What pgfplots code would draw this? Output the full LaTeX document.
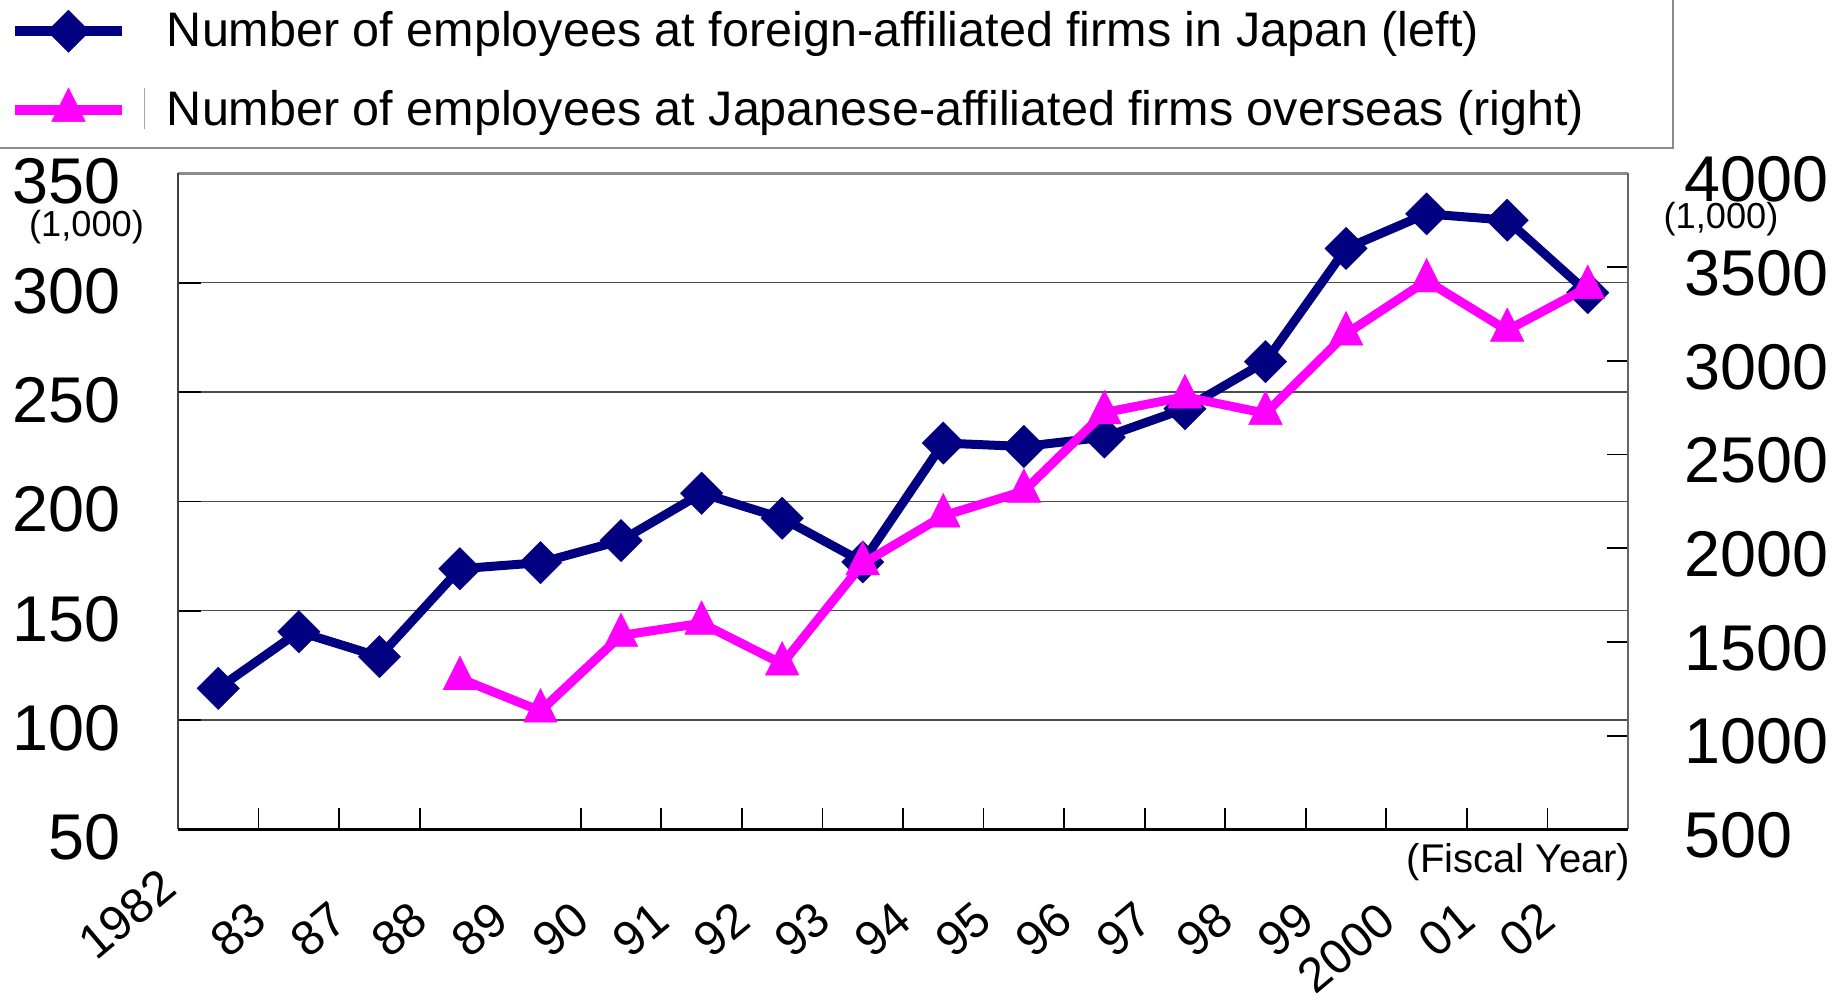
\documentclass[border=0pt]{standalone}
\usepackage{pgfplots}
\pgfplotsset{compat=1.18}
\usepackage{fontspec}
\setmainfont{Liberation Sans}
\definecolor{navyc}{RGB}{0,0,128}
\definecolor{magc}{RGB}{255,0,255}
\newcommand{\fs}[1]{\fontsize{#1pt}{#1pt}\selectfont}
\pgfplotsset{
  navyline/.style={color=navyc, line width=0.9mm, line join=round, mark=square*, mark size=1.5mm,
    mark options={rotate=45, solid, line width=0.1pt, fill=navyc}},
  magline/.style={color=magc, line width=0.9mm, line join=round, mark=triangle*, mark size=1.95mm,
    mark options={yscale=1.155, solid, line width=0.1pt, fill=magc}},
}
\begin{document}
\begin{tikzpicture}
\begin{axis}[
  at={(0,0)}, anchor=south west, scale only axis,
  width=14.5cm, height=6.56cm,
  xmin=-0.5, xmax=17.5, ymin=50, ymax=350,
  axis line style={draw=none},
  xtick={1,...,14,16,17},
  xticklabels={83,87,88,89,90,91,92,93,94,95,96,97,98,99,01,02},
  xtick pos=bottom,
  x tick style={draw=none},
  xticklabel style={font=\fs{13.8}, xshift=-2.8mm, yshift=-9.62mm, rotate=40, anchor=south east, inner sep=0pt},
  extra x ticks={0}, extra x tick labels={1982},
  extra x tick style={major tick length=0pt,
    every x tick label/.style={font=\fs{13.8}, xshift=-3.8mm, yshift=-6.34mm, rotate=40, anchor=south east, inner sep=0pt}},
  ytick={50,100,...,350},
  ytick pos=left,
  yticklabel style={font=\fs{18.4}, anchor=east, inner sep=0pt, xshift=-5.7mm, yshift=-0.8mm},
  ymajorgrids, grid style={black!70, line width=0.35pt},
  tick align=inside, major tick length=2.3mm,
  y tick style={black, line width=0.5pt},
  /pgf/number format/assume math mode=true,
  /pgf/number format/1000 sep={},
]
\addplot[navyline] coordinates {
(0,114.5) (1,140.4) (2,129.0) (3,169.2) (4,172.0) (5,182.1) (6,203.7) (7,192.3) (8,172.3)
(9,226.7) (10,225.1) (11,229.4) (12,242.4) (13,263.9) (14,315.7) (15,331.5) (16,328.6) (17,295.5)
};
\end{axis}
\begin{axis}[
  at={(0,0)}, anchor=south west, scale only axis,
  width=14.5cm, height=6.56cm,
  xmin=-0.5, xmax=17.5, ymin=500, ymax=4000,
  axis line style={draw=none},
  xtick={0.5,1.5,2.5,4.5,5.5,6.5,7.5,8.5,9.5,10.5,11.5,12.5,13.5,14.5,15.5,16.5},
  xticklabels={}, xtick pos=bottom,
  x tick style={black, line width=0.5pt},
  extra x ticks={15}, extra x tick labels={2000},
  extra x tick style={major tick length=0pt,
    every x tick label/.style={font=\fs{13.8}, xshift=-2.7mm, yshift=-9.74mm, rotate=40, anchor=south east, inner sep=0pt}},
  ytick={500,1000,...,4000}, ytick pos=right, yticklabel pos=right,
  y tick style={black, line width=0.5pt},
  yticklabel style={font=\fs{18.4}, anchor=west, inner sep=0pt, xshift=5.55mm, yshift=-0.6mm},
  tick align=inside, major tick length=2.1mm,
  /pgf/number format/assume math mode=true,
  /pgf/number format/1000 sep={},
  legend style={at={(-0.11586,1.2491)}, anchor=north west, draw=none, fill=none,
    inner sep=0pt, outer sep=0pt, row sep=3.54mm, column sep=4.0mm, font=\fs{13.8},
    nodes={inner sep=0pt}, cells={anchor=west}},
  legend image code/.code={\draw[mark repeat=2,mark phase=2,#1,line width=1mm] plot coordinates {(0cm,0cm) (0.535cm,0cm) (1.07cm,0cm)};},
]
\addlegendimage{navyline}
\addlegendentry{Number of employees at foreign-affiliated firms in Japan (left)}
\addplot[magline] coordinates {
(3,1305) (4,1132) (5,1535) (6,1600) (7,1383) (8,1918) (9,2173) (10,2305) (11,2724)
(12,2808) (13,2720) (14,3144) (15,3427) (16,3163) (17,3392)
};
\addlegendentry{Number of employees at Japanese-affiliated firms overseas (right)}
\end{axis}
% frame
\draw[black!45, line width=0.8pt] (0,6.56) -- (14.5,6.56);
\draw[black!75, line width=0.6pt] (0,0) -- (0,6.56);
\draw[black!60, line width=0.6pt] (14.5,0) -- (14.5,6.56);
\draw[black, line width=0.9pt] (0,0) -- (14.5,0);
% unit labels
\node[font=\fs{10.3}, inner sep=0pt] at (-0.915,6.024) {(1,000)};
\node[font=\fs{10.3}, inner sep=0pt] at (15.43,6.104) {(1,000)};
\node[font=\fs{11.4}, anchor=east, inner sep=0pt] at (14.53,-0.326) {(Fiscal Year)};
% legend frame
\draw[black!45, line width=0.6pt] (-1.9,6.814) -- (14.95,6.814) -- (14.95,8.4);
\draw[black!35, line width=0.3pt] (-0.339,7.005) -- (-0.339,7.415);
\pgfresetboundingbox
\path[use as bounding box] (-1.78,-1.716) rectangle (16.59,8.294);
\end{tikzpicture}
\end{document}
